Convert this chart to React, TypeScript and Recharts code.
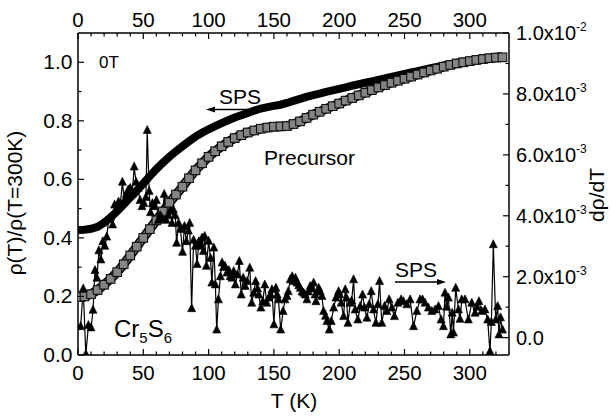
import React from 'react';
import { ComposedChart, Line, XAxis, YAxis } from 'recharts';

const FONT = '"Liberation Sans", Arial, Helvetica, sans-serif';

// SPS resistivity, normalized rho(T)/rho(300K)
const spsT = [0,5,10,15,20,25,30,35,40,45,50,55,60,65,70,75,80,85,90,95,100,105,110,115,120,125,130,135,140,145,150,155,160,165,170,175,180,185,190,195,200,205,210,215,220,225,230,235,240,245,250,255,260,265,270,275,280,285,290,295,300,305,310,315,320,325];
const spsRho = [0.427,0.428,0.431,0.438,0.452,0.47,0.491,0.514,0.538,0.561,0.586,0.611,0.635,0.657,0.677,0.696,0.713,0.73,0.746,0.759,0.771,0.782,0.792,0.802,0.811,0.819,0.827,0.835,0.842,0.847,0.851,0.855,0.861,0.868,0.875,0.882,0.888,0.893,0.899,0.904,0.909,0.914,0.92,0.925,0.93,0.935,0.94,0.945,0.95,0.955,0.96,0.965,0.97,0.975,0.98,0.984,0.989,0.993,0.997,1.0,1.004,1.008,1.011,1.015,1.018,1.02];

// Precursor, normalized rho(T)/rho(300K)
const preT = [2,5,10,15,20,25,30,35,40,45,50,55,60,65,70,75,80,85,90,95,100,105,110,115,120,125,130,135,140,145,150,155,160,165,170,175,180,185,190,195,200,205,210,215,220,225,230,235,240,245,250,255,260,265,270,275,280,285,290,295,300,305,310,315,320,325];
const preRho = [0.198,0.2,0.208,0.222,0.24,0.26,0.283,0.31,0.34,0.37,0.4,0.43,0.46,0.49,0.52,0.548,0.575,0.604,0.631,0.655,0.677,0.696,0.713,0.728,0.741,0.751,0.76,0.767,0.773,0.777,0.78,0.781,0.782,0.789,0.798,0.81,0.821,0.831,0.841,0.85,0.859,0.869,0.878,0.887,0.896,0.905,0.914,0.922,0.93,0.937,0.944,0.951,0.958,0.965,0.972,0.978,0.985,0.991,0.996,1.0,1.004,1.008,1.011,1.014,1.016,1.017];

// SPS d(rho)/dT, in units of 1e-3
const dT = [2,4,6,8,10,11.5,13,14.5,16,17.5,19,20.5,22,23.5,25,26.5,28,29.5,31,32.5,34,35.5,37,38.5,40,41.5,43,44.5,46,47.5,49,50.5,52,53,54.5,55.5,57,58.5,60,61.5,63,64.5,66,67.5,69,70.5,72,73,74.5,75.5,77,78.5,80,81.5,83,84.5,85.5,87,88.5,90,91.2,92.5,94,95,96,97,98.3,100,101.5,102.5,104,105.2,106.2,107.5,109,110.3,111.5,112.5,114,115.5,116.5,118,119.2,120.5,122,123.5,125,126.5,128,129.5,131.5,133,134.5,136,137.5,138.5,140,141.5,143,144.5,146,147.5,148.5,150,151.5,152.5,153.5,155.2,157,158.5,160,161,162.5,164,165.3,166.5,167.7,169,170.2,171.5,172.8,174,175.3,176.5,177.8,179,180.4,181.5,182.2,183.3,184.3,185.5,186.8,188,189.5,190.6,192.4,193.9,195.7,197.5,199.5,200.5,201.5,203.4,204.6,205.6,206.7,208.4,209.5,211,212.2,214.3,216.1,217.9,219.4,221.2,222.9,224.5,226.3,228.1,229.6,230.9,232.6,234.7,236.5,238.2,240.3,242.3,244.9,247.4,249.2,251.8,254.3,256.9,259.4,261.9,263.8,265.7,268.3,270.9,273.4,276,278,279.8,281,282.3,283.6,285.4,286.5,287.5,289.2,291.3,292.5,293.8,296.3,298.9,301.5,304,305.5,307,309.1,311.6,313.7,315.4,316.5,318,319.8,321.3,322.3,323.5,325];
const dV = [0.36,1.6,-0.55,0.4,0.32,0.9,2.2,1.95,2.85,2.55,3.15,3.0,3.3,3.9,3.95,3.7,4.35,4.2,4.45,4.4,5.1,4.5,4.7,4.85,4.9,4.7,5.6,5.1,4.9,4.5,4.3,4.4,4.6,6.8,4.8,4.1,4.4,4.3,4.5,3.85,4.0,3.9,4.7,3.85,4.0,4.15,3.75,4.2,4.0,3.1,3.75,3.55,2.8,3.65,3.15,3.5,3.75,0.95,3.2,3.0,2.4,3.15,3.0,3.27,2.83,3.32,2.34,3.16,2.6,1.79,2.94,1.73,0.25,1.24,2.0,2.45,2.3,2.34,2.12,2.2,2.0,1.95,2.17,1.73,2.06,2.5,1.4,1.95,1.68,1.84,2.28,1.13,1.46,1.84,1.6,1.4,0.97,1.18,1.73,1.13,1.3,1.4,1.57,0.42,1.62,1.4,1.24,0.25,0.86,1.24,1.35,1.51,1.9,2.0,1.84,1.95,1.79,1.7,1.62,1.5,1.46,1.4,1.24,1.5,1.68,1.6,1.79,1.4,1.18,1.5,1.62,1.5,1.35,0.86,0.7,0.53,0.25,0.53,0.97,1.3,1.51,1.4,1.13,0.69,1.57,1.3,0.47,1.13,1.2,1.9,0.91,0.58,1.02,1.4,0.97,0.64,1.08,1.51,0.91,0.47,1.08,1.84,0.47,1.02,0.86,1.24,0.97,0.69,1.13,1.24,1.18,1.08,1.24,0.36,0.86,1.24,1.24,1.13,0.97,0.86,0.91,1.02,0.58,0.36,1.46,1.0,1.3,0.09,0.8,0.15,1.62,0.91,0.6,1.24,1.24,0.58,1.13,0.8,1.0,1.18,0.86,0.91,0.58,-0.46,0.5,3.05,0.58,1.02,0.09,0.65,0.25];

const xTicks = [0,10,20,30,40,50,60,70,80,90,100,110,120,130,140,150,160,170,180,190,200,210,220,230,240,250,260,270,280,290,300,310,320];
const xMajor = [0,50,100,150,200,250,300];
const leftTicks = [0,0.1,0.2,0.3,0.4,0.5,0.6,0.7,0.8,0.9,1.0];
const leftLabels = ['0.0','','0.2','','0.4','','0.6','','0.8','','1.0'];
const rightTicks = [0,1,2,3,4,5,6,7,8,9,10];
const rightLabels = ['0.0','','2.0x10','','4.0x10','','6.0x10','','8.0x10','','1.0x10'];
const rightExp = ['','','-3','','-3','','-3','','-3','','-2'];

const spsData = spsT.map((T, i) => ({ T, v: spsRho[i] }));
const preData = preT.map((T, i) => ({ T, v: preRho[i] }));
const dData = dT.map((T, i) => ({ T, v: dV[i] }));

const XTick = (top: boolean) => (props: any) => {
  const { x, y, payload } = props;
  const v = payload.value;
  const major = xMajor.includes(v);
  const len = major ? 6 : 3.5;
  return (
    <g>
      <line x1={x} x2={x} y1={y} y2={top ? y + len : y - len} stroke="#000" strokeWidth={1.2} />
      {major && (
        <text x={x} y={top ? y - 6.5 : y + 24.5} textAnchor="middle" fontSize={20.5} fontFamily={FONT} fill="#000">
          {v}
        </text>
      )}
    </g>
  );
};

const LeftTick = (props: any) => {
  const { x, y, payload } = props;
  const i = leftTicks.indexOf(payload.value);
  const lab = i >= 0 ? leftLabels[i] : '';
  const len = lab ? 6 : 3.5;
  return (
    <g>
      <line x1={x} x2={x + len} y1={y} y2={y} stroke="#000" strokeWidth={1.2} />
      {lab && (
        <text x={x - 5.5} y={y + 7} textAnchor="end" fontSize={21} fontFamily={FONT} fill="#000">
          {lab}
        </text>
      )}
    </g>
  );
};

const RightTick = (props: any) => {
  const { x, y, payload } = props;
  const i = rightTicks.indexOf(payload.value);
  const lab = i >= 0 ? rightLabels[i] : '';
  const ex = i >= 0 ? rightExp[i] : '';
  const len = lab ? 6 : 3.5;
  return (
    <g>
      <line x1={x} x2={x - len} y1={y} y2={y} stroke="#000" strokeWidth={1.2} />
      {lab && (
        <text x={x + 7} y={y + 7} textAnchor="start" fontSize={20} fontFamily={FONT} fill="#000">
          {lab}
          {ex && (
            <tspan fontSize={12} dy={-9}>
              {ex}
            </tspan>
          )}
        </text>
      )}
    </g>
  );
};

const Square = (props: any) => {
  const { cx, cy } = props;
  if (cx == null || cy == null) return null;
  return <rect x={cx - 4.3} y={cy - 4.3} width={8.6} height={8.6} fill="#848484" stroke="#111" strokeWidth={1.1} />;
};

const Tri = (props: any) => {
  const { cx, cy } = props;
  if (cx == null || cy == null) return null;
  return <polygon points={`${cx},${cy - 5} ${cx - 4},${cy + 3} ${cx + 4},${cy + 3}`} fill="#000" stroke="#000" strokeWidth={0.6} />;
};

export default function App() {
  return (
    <div style={{ position: 'absolute', left: 0, top: 0, width: 613, height: 416, background: '#fff' }}>
      <ComposedChart width={613} height={416} margin={{ top: 0, right: 0, bottom: 0, left: 0 }}>
        <XAxis
          xAxisId="b"
          dataKey="T"
          type="number"
          domain={[0, 330]}
          allowDataOverflow
          ticks={xTicks}
          interval={0}
          orientation="bottom"
          height={61}
          tickLine={false}
          tickSize={0}
          tickMargin={0}
          tick={XTick(false)}
          axisLine={{ stroke: '#000', strokeWidth: 1.5 }}
        />
        <XAxis
          xAxisId="t"
          dataKey="T"
          type="number"
          domain={[0, 330]}
          allowDataOverflow
          ticks={xTicks}
          interval={0}
          orientation="top"
          height={33}
          tickLine={false}
          tickSize={0}
          tickMargin={0}
          tick={XTick(true)}
          axisLine={{ stroke: '#000', strokeWidth: 1.5 }}
        />
        <YAxis
          yAxisId="l"
          type="number"
          domain={[0, 1.1]}
          allowDataOverflow
          ticks={leftTicks}
          interval={0}
          orientation="left"
          width={78}
          tickLine={false}
          tickSize={0}
          tickMargin={0}
          tick={LeftTick}
          axisLine={{ stroke: '#000', strokeWidth: 1.5 }}
        />
        <YAxis
          yAxisId="r"
          type="number"
          domain={[-0.57, 10]}
          allowDataOverflow
          ticks={rightTicks}
          interval={0}
          orientation="right"
          width={104}
          tickLine={false}
          tickSize={0}
          tickMargin={0}
          tick={RightTick}
          axisLine={{ stroke: '#000', strokeWidth: 1.5 }}
        />
        <Line
          data={spsData}
          xAxisId="b"
          yAxisId="l"
          dataKey="v"
          stroke="#000"
          strokeWidth={8}
          dot={false}
          isAnimationActive={false}
        />
        <Line
          data={preData}
          xAxisId="b"
          yAxisId="l"
          dataKey="v"
          stroke="#000"
          strokeWidth={9.5}
          dot={false}
          isAnimationActive={false}
        />
        <Line
          data={preData}
          xAxisId="b"
          yAxisId="l"
          dataKey="v"
          stroke="#777"
          strokeWidth={6.5}
          dot={<Square />}
          isAnimationActive={false}
        />
        <Line
          data={dData}
          xAxisId="b"
          yAxisId="r"
          dataKey="v"
          stroke="#000"
          strokeWidth={1.2}
          dot={<Tri />}
          isAnimationActive={false}
        />
        <g fontFamily={FONT} fill="#000">
          <text x={99} y={68} fontSize={17}>0T</text>
          <text x={219} y={104} fontSize={21}>SPS</text>
          <line x1={249} y1={109.5} x2={213} y2={109.5} stroke="#000" strokeWidth={1.6} />
          <polygon points="206,109.5 215,106.5 215,112.5" fill="#000" />
          <text x={264} y={165} fontSize={21}>Precursor</text>
          <text x={395} y={277} fontSize={21}>SPS</text>
          <line x1={395} y1={282} x2={438} y2={282} stroke="#000" strokeWidth={1.6} />
          <polygon points="446,282 437,279 437,285" fill="#000" />
          <text x={114} y={337} fontSize={24}>
            Cr<tspan fontSize={15} dy={6}>5</tspan>
            <tspan fontSize={24} dy={-6}>S</tspan>
            <tspan fontSize={15} dy={6}>6</tspan>
          </text>
          <text x={294} y={408} fontSize={21} textAnchor="middle">T (K)</text>
          <text x={0} y={0} fontSize={21} textAnchor="middle" transform="translate(22,203) rotate(-90)">
            ρ(T)/ρ(T=300K)
          </text>
          <text x={0} y={0} fontSize={21} textAnchor="middle" transform="translate(604,195) rotate(-90)">
            dρ/dT
          </text>
        </g>
      </ComposedChart>
    </div>
  );
}
